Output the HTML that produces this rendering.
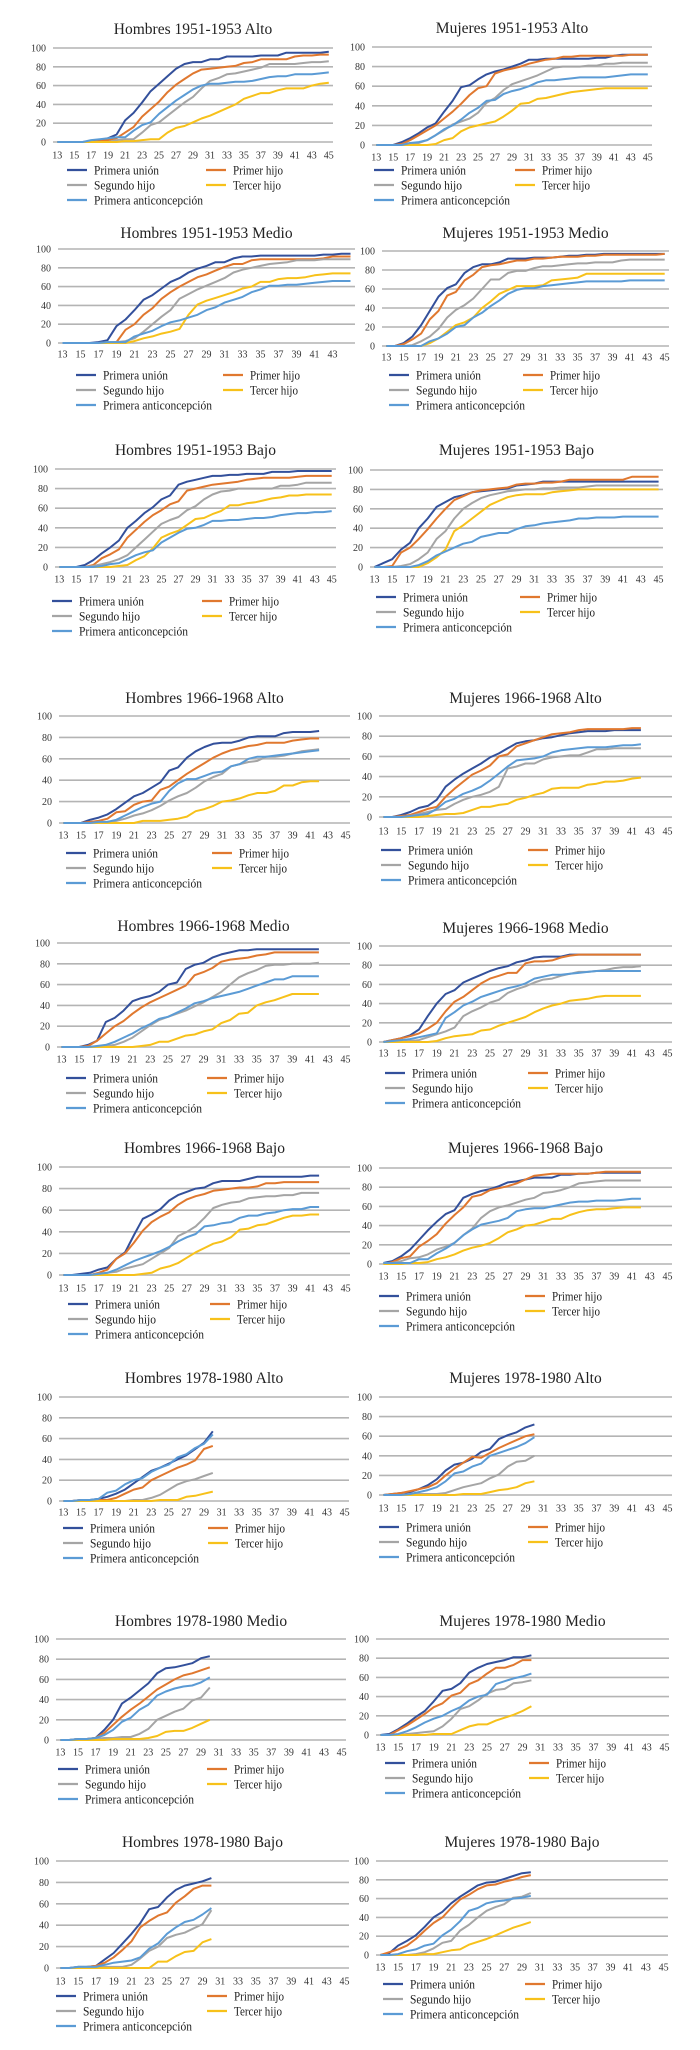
<!DOCTYPE html>
<html><head><meta charset="utf-8"><title>Curvas acumuladas</title>
<style>
html,body{margin:0;padding:0;background:#fff;}
svg{display:block;font-family:"Liberation Serif","Times New Roman",serif;}
</style></head>
<body>
<svg id="root" width="700" height="2050" viewBox="0 0 700 2050"></svg>
<script>
const ages = [13,14,15,16,17,18,19,20,21,22,23,24,25,26,27,28,29,30,31,32,33,34,35,36,37,38,39,40,41,42,43,44,45];
const yTicks = [0,20,40,60,80,100];
const seriesNames = ["Primera unión","Primer hijo","Segundo hijo","Tercer hijo","Primera anticoncepción"];

// Hombres 1951-1953 Alto
const h51aU = [0,0,0,0,1,2,4,8,23,31,42,54,62,70,78,83,85,85,88,88,91,91,91,91,92,92,92,95,95,95,95,95,96];
const h51aP = [0,0,0,0,0,1,2,4,10,16,27,35,43,53,61,67,73,77,78,79,80,81,84,85,88,88,88,88,91,92,92,93,93];
const h51aS = [0,0,0,0,0,0,0,2,3,3,10,18,21,28,35,42,48,57,65,68,72,73,75,77,79,83,83,83,83,84,85,85,86];
const h51aT = [0,0,0,0,0,0,0,0,1,1,2,3,3,10,15,17,21,25,28,32,36,40,46,49,52,52,55,57,57,57,60,62,63];
const h51aA = [0,0,0,0,2,3,4,5,5,12,18,21,30,37,44,50,56,60,62,62,63,64,64,65,67,69,70,70,72,72,72,73,74];
// Mujeres 1951-1953 Alto
const m51aU = [0,0,0,3,7,12,18,22,34,45,59,61,67,72,75,77,80,83,87,87,88,88,88,88,88,88,89,89,91,92,92,92,92];
const m51aP = [0,0,0,1,5,10,15,20,27,34,42,51,58,60,73,76,78,80,83,85,87,88,90,90,91,91,91,91,91,91,92,92,92];
const m51aS = [0,0,0,0,2,2,5,10,15,21,24,27,33,43,48,56,62,65,68,71,75,79,80,80,80,81,81,83,83,84,84,84,84];
const m51aT = [0,0,0,0,0,0,0,1,5,7,14,18,20,22,24,29,35,42,43,47,48,50,52,54,55,56,57,58,58,58,58,58,58];
const m51aA = [0,0,0,0,2,3,5,10,16,20,26,33,38,45,46,52,55,57,60,64,66,66,67,68,69,69,69,69,70,71,72,72,72];
// Hombres 1951-1953 Medio
const h51mU = [0,0,0,0,1,3,18,25,35,46,51,58,65,69,75,79,82,86,86,90,92,92,93,93,93,93,93,93,93,94,94,95,95];
const h51mP = [0,0,0,0,0,0,1,14,20,30,37,47,54,60,65,70,73,77,81,84,84,88,89,89,89,89,89,89,89,90,92,92,92];
const h51mS = [0,0,0,0,0,1,1,2,5,12,20,28,35,47,52,57,61,65,69,75,78,80,82,84,85,86,88,88,88,89,89,89,89];
const h51mT = [0,0,0,0,0,0,0,0,2,5,7,10,12,15,30,41,45,48,51,54,58,60,65,65,68,69,69,70,72,73,74,74,74];
const h51mA = [0,0,0,0,0,1,1,1,7,10,13,18,22,24,27,30,35,38,43,46,49,54,57,61,61,62,62,63,64,65,66,66,66];
// Mujeres 1951-1953 Medio
const m51mU = [0,0,3,10,22,37,52,61,65,77,83,86,86,88,92,92,92,93,93,93,94,95,95,96,96,97,97,97,97,97,97,97,97];
const m51mP = [0,0,2,7,13,28,37,53,57,69,75,83,85,86,88,90,90,92,92,93,94,94,94,95,95,96,96,96,96,96,96,96,97];
const m51mS = [0,0,0,1,5,10,18,30,38,43,50,60,70,70,77,79,79,82,84,84,85,86,87,87,88,88,88,90,91,91,91,91,91];
const m51mT = [0,0,0,0,0,3,8,15,22,25,30,40,47,55,59,63,63,63,64,69,70,71,72,76,76,76,76,76,76,76,76,76,76];
const m51mA = [0,0,0,0,0,5,8,13,20,22,30,35,42,48,55,59,61,61,63,64,65,66,67,68,68,68,68,68,69,69,69,69,69];
// Hombres 1951-1953 Bajo
const h51bU = [0,0,0,2,7,14,20,27,40,47,55,61,69,73,84,87,89,91,93,93,94,94,95,95,95,97,97,97,98,98,98,98,98];
const h51bP = [0,0,0,0,2,9,13,18,30,38,46,53,58,64,67,78,80,82,84,85,86,87,89,90,91,91,91,91,92,93,93,93,93];
const h51bS = [0,0,0,0,1,3,5,8,12,20,28,36,44,48,51,58,62,69,74,77,78,80,80,80,80,80,83,83,84,86,86,86,86];
const h51bT = [0,0,0,0,0,0,0,1,2,7,11,19,30,34,37,43,49,50,54,57,63,63,65,66,68,70,71,73,73,74,74,74,74];
const h51bA = [0,0,0,0,0,1,3,4,8,12,15,17,25,30,35,39,40,43,47,47,48,48,49,50,50,51,53,54,55,55,56,56,57];
// Mujeres 1951-1953 Bajo
const m51bU = [0,4,8,18,25,40,50,62,67,72,74,77,78,79,80,81,84,85,86,88,88,88,88,88,88,88,88,88,88,88,88,88,88];
const m51bP = [0,0,1,15,20,29,39,50,60,69,73,77,79,80,81,82,85,86,86,87,87,88,90,90,90,90,90,90,90,93,93,93,93];
const m51bS = [0,0,0,1,3,8,15,29,37,50,60,66,71,74,76,78,79,80,80,81,81,82,82,82,83,84,84,84,84,84,84,84,84];
const m51bT = [0,0,0,0,0,0,4,10,18,37,43,50,57,64,68,72,74,75,75,75,77,78,79,80,80,80,80,80,80,80,80,80,80];
const m51bA = [0,0,0,0,0,2,6,12,16,20,24,26,31,33,35,35,39,42,43,45,46,47,48,50,50,51,51,51,52,52,52,52,52];
// Hombres 1966-1968 Alto
const h66aU = [0,0,0,3,5,8,13,19,25,28,33,38,49,52,61,67,71,74,75,75,77,80,81,81,81,84,85,85,85,86];
const h66aP = [0,0,0,1,2,4,10,11,17,20,21,31,34,40,46,51,56,61,65,68,70,72,73,75,75,75,77,78,79,79];
const h66aS = [0,0,0,0,0,1,2,4,7,9,12,16,21,25,28,33,39,43,46,53,55,57,58,62,62,63,65,67,68,69];
const h66aT = [0,0,0,0,0,0,0,0,0,2,2,2,3,4,6,11,13,16,20,21,23,26,28,28,30,35,35,38,39,39];
const h66aA = [0,0,0,0,1,1,3,7,11,15,18,20,30,37,41,41,44,47,48,53,55,60,62,62,63,64,65,66,67,68];
// Mujeres 1966-1968 Alto
const m66aU = [0,0,2,5,9,11,17,30,37,43,48,53,59,63,68,73,75,76,78,79,81,83,84,85,85,85,86,86,86,86];
const m66aP = [0,0,1,2,5,8,10,20,28,35,42,46,51,60,62,70,73,76,79,82,83,84,86,87,87,87,87,87,88,88];
const m66aS = [0,0,0,1,3,5,7,8,13,17,20,22,25,30,48,50,53,53,57,59,60,61,61,64,67,67,68,68,68,68];
const m66aT = [0,0,0,0,0,1,2,3,3,4,7,10,10,12,13,17,19,22,24,28,29,29,29,32,33,35,35,36,38,39];
const m66aA = [0,0,0,1,2,3,8,15,18,23,26,30,36,43,50,56,57,58,60,64,66,67,68,69,69,69,70,71,71,72];
// Hombres 1966-1968 Medio
const h66mU = [0,0,0,2,6,24,28,35,44,47,49,53,60,62,75,79,81,86,89,91,93,93,94,94,94,94,94,94,94,94];
const h66mP = [0,0,0,1,6,13,20,25,32,38,43,47,51,55,59,69,72,76,82,84,85,86,88,89,91,91,91,91,91,91];
const h66mS = [0,0,0,0,0,1,2,5,9,15,21,26,29,32,35,39,43,48,53,60,67,71,74,78,79,79,80,80,80,81];
const h66mT = [0,0,0,0,0,0,0,0,0,1,2,5,5,8,11,12,15,17,23,26,32,33,40,43,45,48,51,51,51,51];
const h66mA = [0,0,0,0,1,2,5,9,13,18,22,27,29,33,37,42,44,47,49,51,53,56,59,62,65,65,68,68,68,68];
// Mujeres 1966-1968 Medio
const m66mU = [0,2,4,7,13,27,40,50,54,62,66,70,74,77,79,83,85,88,89,89,89,91,91,91,91,91,91,91,91,91];
const m66mP = [0,2,4,6,9,14,20,32,42,47,54,61,66,69,72,72,82,84,84,85,88,90,91,91,91,91,91,91,91,91];
const m66mS = [0,0,0,1,2,5,8,11,15,27,32,36,41,44,51,55,58,62,65,66,69,71,73,73,74,75,77,78,78,79];
const m66mT = [0,0,0,0,0,0,1,4,6,7,8,12,13,17,20,23,26,31,35,38,40,43,44,45,47,48,48,48,48,48];
const m66mA = [0,1,2,3,5,7,9,25,31,38,42,47,50,53,56,58,61,66,68,70,70,71,72,73,74,74,74,74,74,74];
// Hombres 1966-1968 Bajo
const h66bU = [0,0,1,2,5,7,15,21,37,52,56,61,69,74,77,80,81,85,87,87,87,89,91,91,91,91,91,91,92,92];
const h66bP = [0,0,0,0,2,5,15,20,30,41,49,54,58,65,70,73,75,78,79,80,81,81,82,85,85,86,86,86,86,86];
const h66bS = [0,0,0,0,1,2,3,6,8,10,15,20,25,36,40,45,53,62,65,67,68,71,72,73,73,74,74,76,76,76];
const h66bT = [0,0,0,0,0,0,0,0,0,1,2,6,8,11,16,21,25,29,31,35,42,43,46,47,50,53,55,55,56,56];
const h66bA = [0,0,0,0,1,2,5,9,13,16,19,22,26,31,35,38,45,46,48,49,53,55,55,57,58,60,61,61,63,63];
// Mujeres 1966-1968 Bajo
const m66bU = [1,3,8,15,25,35,44,52,56,69,73,76,78,81,85,86,88,90,90,90,93,93,94,94,95,95,95,95,95,95];
const m66bP = [0,2,6,8,18,24,31,42,51,59,70,72,77,79,81,84,88,92,93,94,94,94,94,94,95,96,96,96,96,96];
const m66bS = [0,1,3,6,7,10,15,18,22,30,37,48,55,59,61,64,67,69,74,75,77,80,84,85,86,87,87,87,87,87];
const m66bT = [0,0,0,1,1,2,5,7,10,14,17,19,22,27,33,36,40,41,44,47,47,51,54,56,57,57,58,59,59,59];
const m66bA = [1,1,1,1,5,5,11,16,22,30,36,41,43,45,48,55,57,58,58,60,62,64,65,65,66,66,66,67,68,68];
// Hombres 1978-1980 Alto
const h78aU = [0,0,1,1,2,4,7,11,17,23,29,32,36,40,44,50,56,67];
const h78aP = [0,0,1,1,1,1,3,7,11,13,20,24,28,32,35,39,50,53];
const h78aS = [0,0,0,0,0,0,0,0,1,1,3,6,11,16,19,21,24,27];
const h78aT = [0,0,0,0,0,0,0,0,0,0,0,1,1,1,4,5,7,9];
const h78aA = [0,0,1,1,2,8,10,16,20,22,28,32,35,42,45,51,55,64];
// Mujeres 1978-1980 Alto
const m78aU = [0,1,2,3,6,10,16,25,31,33,37,44,47,57,61,64,69,72];
const m78aP = [0,1,2,4,6,8,12,20,27,33,39,38,43,48,52,56,60,62];
const m78aS = [0,0,0,0,1,1,1,2,5,8,10,12,17,21,29,34,35,40];
const m78aT = [0,0,0,0,0,0,0,0,0,1,1,1,3,5,6,8,12,14];
const m78aA = [0,0,0,1,3,5,8,14,22,24,29,32,40,43,46,49,53,59];
// Hombres 1978-1980 Medio
const h78mU = [0,0,1,1,2,10,20,36,42,49,56,66,71,72,74,76,81,83];
const h78mP = [0,0,1,1,2,7,15,23,30,36,43,50,55,60,64,66,69,72];
const h78mS = [0,0,1,1,1,2,2,3,3,6,11,20,24,28,31,39,42,52];
const h78mT = [0,0,0,0,0,0,1,1,1,1,2,4,8,9,9,12,16,20];
const h78mA = [0,0,1,1,2,5,10,18,22,30,35,44,48,51,53,54,57,62];
// Mujeres 1978-1980 Medio
const m78mU = [0,1,6,12,19,25,35,46,48,54,65,70,74,76,78,81,81,83];
const m78mP = [0,0,5,10,16,22,29,33,41,44,53,57,64,70,70,73,78,78];
const m78mS = [0,0,0,1,2,3,4,9,17,27,30,36,43,47,48,54,55,57];
const m78mT = [0,0,0,0,0,0,1,1,1,5,9,11,11,15,18,21,25,30];
const m78mA = [0,0,1,4,8,13,17,20,25,29,36,40,42,53,56,59,61,64];
// Hombres 1978-1980 Bajo
const h78bU = [0,0,1,1,2,8,14,23,32,42,55,57,66,73,77,79,81,84];
const h78bP = [0,0,0,1,2,5,10,17,25,38,44,49,52,61,67,74,77,77];
const h78bS = [0,0,1,1,1,1,1,1,3,9,16,20,28,31,33,37,41,54];
const h78bT = [0,0,0,0,0,0,0,0,0,0,0,6,6,11,15,16,24,27];
const h78bA = [0,0,1,1,1,3,5,6,7,10,18,23,32,38,43,45,50,56];
// Mujeres 1978-1980 Bajo
const m78bU = [0,2,10,15,21,30,40,46,55,62,68,74,77,78,81,84,87,88];
const m78bP = [0,3,6,10,17,26,34,40,50,59,64,70,74,75,78,80,83,85];
const m78bS = [0,0,0,0,1,3,7,13,15,26,32,40,47,51,54,61,62,66];
const m78bT = [0,0,0,0,0,1,1,3,5,6,11,14,17,21,25,29,32,35];
const m78bA = [0,0,1,4,6,10,12,21,27,36,47,50,55,57,58,60,61,63];

const colors = ["#33509b","#e0782f","#a5a5a5","#f7c11a","#5b9bd5"];

// layout: [title, left, right, y100, y0, titleY, xlabY, legY, legX1, legX2, lastLabel, data]
const panels = [
 ["Hombres 1951-1953 Alto",53,333,48,142,29,155,170,94,233,45,[h51aU,h51aP,h51aS,h51aT,h51aA]],
 ["Mujeres 1951-1953 Alto",372,652,47,145,28,157,170,401,542,45,[m51aU,m51aP,m51aS,m51aT,m51aA]],
 ["Hombres 1951-1953 Medio",58,355,249,343,233,354,375,103,250,43,[h51mU,h51mP,h51mS,h51mT,h51mA]],
 ["Mujeres 1951-1953 Medio",382,669,251,346,233,357,375,416,550,45,[m51mU,m51mP,m51mS,m51mT,m51mA]],
 ["Hombres 1951-1953 Bajo",55,336,469,567,450,579,601,79,229,45,[h51bU,h51bP,h51bS,h51bT,h51bA]],
 ["Mujeres 1951-1953 Bajo",370,663,470,567,450,579,597,403,547,45,[m51bU,m51bP,m51bS,m51bT,m51bA]],
 ["Hombres 1966-1968 Alto",59,350,716,823,698,835,853,93,239,45,[h66aU,h66aP,h66aS,h66aT,h66aA]],
 ["Mujeres 1966-1968 Alto",379,672,716,817,698,831,850,408,555,45,[m66aU,m66aP,m66aS,m66aT,m66aA]],
 ["Hombres 1966-1968 Medio",57,350,943,1047,926,1059,1078,93,234,45,[h66mU,h66mP,h66mS,h66mT,h66mA]],
 ["Mujeres 1966-1968 Medio",379,672,946,1042,928,1053,1073,412,555,45,[m66mU,m66mP,m66mS,m66mT,m66mA]],
 ["Hombres 1966-1968 Bajo",59,350,1167,1275,1148,1288,1304,95,237,45,[h66bU,h66bP,h66bS,h66bT,h66bA]],
 ["Mujeres 1966-1968 Bajo",379,672,1168,1264,1148,1276,1296,406,552,45,[m66bU,m66bP,m66bS,m66bT,m66bA]],
 ["Hombres 1978-1980 Alto",59,349,1397,1501,1378,1512,1528,90,235,45,[h78aU,h78aP,h78aS,h78aT,h78aA]],
 ["Mujeres 1978-1980 Alto",379,672,1397,1495,1378,1508,1527,406,555,45,[m78aU,m78aP,m78aS,m78aT,m78aA]],
 ["Hombres 1978-1980 Medio",56,346,1639,1740,1621,1752,1769,85,234,45,[h78mU,h78mP,h78mS,h78mT,h78mA]],
 ["Mujeres 1978-1980 Medio",376,669,1639,1735,1621,1747,1763,412,556,45,[m78mU,m78mP,m78mS,m78mT,m78mA]],
 ["Hombres 1978-1980 Bajo",56,349,1861,1968,1842,1981,1996,83,234,45,[h78bU,h78bP,h78bS,h78bT,h78bA]],
 ["Mujeres 1978-1980 Bajo",376,668,1861,1955,1842,1967,1984,410,552,45,[m78bU,m78bP,m78bS,m78bT,m78bA]]
];
const legendWidths = [65,50,61,48,109];

const NS = "http://www.w3.org/2000/svg";
const root = document.getElementById("root");
function mk(tag, attrs, parent, text){
  const e = document.createElementNS(NS, tag);
  for (const k in attrs) e.setAttribute(k, attrs[k]);
  if (text !== undefined) e.textContent = text;
  parent.appendChild(e);
  return e;
}
function slug(s){return s.toLowerCase().normalize("NFD").replace(/[\u0300-\u036f]/g,"").replace(/[^a-z0-9]+/g,"-").replace(/-+$/,"");}

panels.forEach(function(p){
  const [title,left,right,y100,y0,titleY,xlabY,legY,legX1,legX2,lastLabel,data] = p;
  const g = mk("g",{},root);
  
  
  const n = ages.length;
  const step = (right-left)/n;
  const xPos = function(i){return left + (i+0.5)*step;};
  const yPos = function(v){return y0 - (v/100)*(y0-y100);};
  const t = mk("text",{x:(left+right)/2,y:titleY+5,"text-anchor":"middle","font-size":"15.5",fill:"#222"},g,title);
  
  
  yTicks.forEach(function(v){
    const gl = mk("line",{x1:left,x2:right,y1:yPos(v),y2:yPos(v),stroke:"#b4b4b4","stroke-width":"1.6"},g);
    
    
    const tl = mk("text",{x:left-7,y:yPos(v)+3.5,"text-anchor":"end","font-size":"10",fill:"#333"},g,String(v));
    
    
  });
  ages.forEach(function(a,i){
    if (a % 2 === 1 && a <= lastLabel){
      const xl = mk("text",{x:xPos(i),y:xlabY+3.5,"text-anchor":"middle","font-size":"10",fill:"#333"},g,String(a));
      
      
    }
  });
  data.forEach(function(arr,si){
    const pts = arr.map(function(v,i){return xPos(i).toFixed(1)+","+yPos(v).toFixed(1);}).join(" ");
    const pl = mk("polyline",{points:pts,fill:"none",stroke:colors[si],"stroke-width":"2","stroke-linejoin":"round"},g);
    
    
  });
  const order = [[0,legX1,0],[1,legX2,0],[2,legX1,1],[3,legX2,1],[4,legX1,2]];
  order.forEach(function(o){
    const si=o[0], tx=o[1], row=o[2];
    const ly = legY + row*15;
    const le = mk("g",{},g);
    
    
    mk("line",{x1:tx-27,x2:tx-7,y1:ly,y2:ly,stroke:colors[si],"stroke-width":"2.2"},le);
    mk("text",{x:tx,y:ly+4.5,"font-size":"13",fill:"#222",textLength:legendWidths[si],lengthAdjust:"spacingAndGlyphs"},le,seriesNames[si]);
  });
});
</script>
</body></html>
